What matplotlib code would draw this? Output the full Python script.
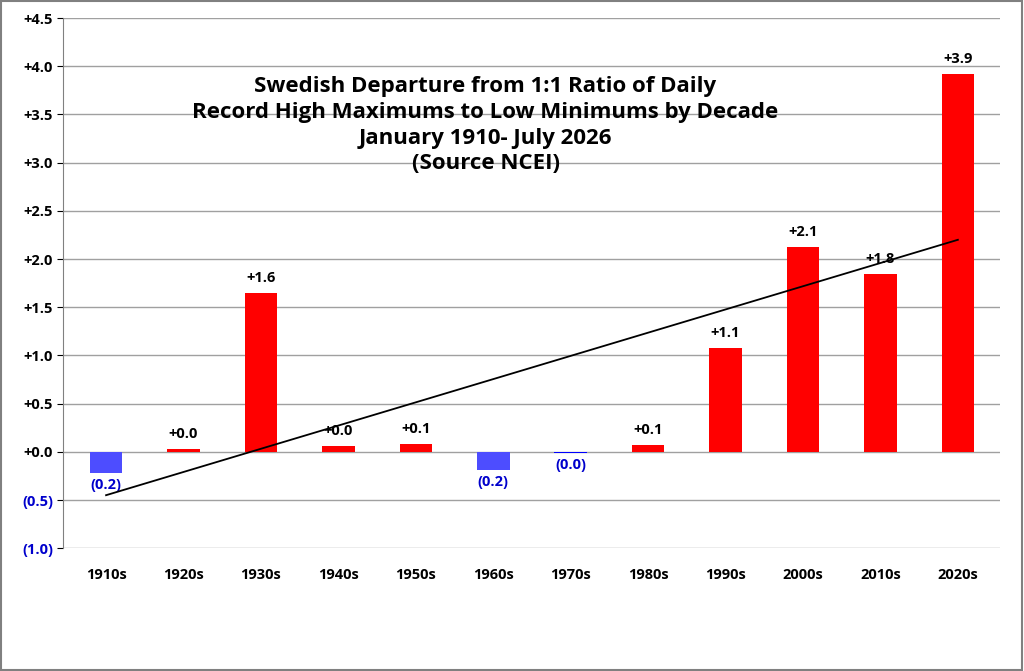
import matplotlib.pyplot as plt
from matplotlib.patches import Rectangle

decades = ['1910s', '1920s', '1930s', '1940s', '1950s', '1960s',
           '1970s', '1980s', '1990s', '2000s', '2010s', '2020s']
values = [-0.22, 0.03, 1.65, 0.06, 0.08, -0.19, -0.01, 0.07, 1.08, 2.13, 1.85, 3.92]
labels = ['(0.2)', '+0.0', '+1.6', '+0.0', '+0.1', '(0.2)', '(0.0)', '+0.1',
          '+1.1', '+2.1', '+1.8', '+3.9']
trend_start = -0.45
trend_end = 2.2
yticks = [-1.0, -0.5, 0.0, 0.5, 1.0, 1.5, 2.0, 2.5, 3.0, 3.5, 4.0, 4.5]

plt.rcParams['font.family'] = ['Open Sans', 'DejaVu Sans']
plt.rcParams['font.weight'] = 'bold'

fig = plt.figure(figsize=(10.24, 6.71), dpi=100)
ax = fig.add_axes([0.062, 0.183, 0.915, 0.79])

x = list(range(len(decades)))
colors = ['#0000ff' if v < 0 else '#ff0000' for v in values]
ax.bar(x, values, width=0.42, color=colors, zorder=3)
ax.bar([0, 5], [values[0], values[5]], width=0.42, color='#4d4dff', zorder=3)

for i, v in enumerate(values):
    if v < 0:
        ax.text(i, v - 0.05, labels[i], ha='center', va='top', color='#0000cc',
                fontsize=10.5, fontweight='bold', zorder=4)
    else:
        ax.text(i, v + 0.08, labels[i], ha='center', va='bottom', color='black',
                fontsize=10.5, fontweight='bold', zorder=4)

ax.plot([0, len(decades) - 1], [trend_start, trend_end], color='black', lw=1.3, zorder=5)

ax.set_xlim(-0.55, len(decades) - 0.45)
ax.set_ylim(-1.0, 4.5)
ax.set_yticks(yticks)
ylabels = []
for t in yticks:
    if t < 0:
        ylabels.append('(%.1f)' % abs(t))
    else:
        ylabels.append('+%.1f' % t)
ax.set_yticklabels(ylabels, fontsize=10.5, fontweight='bold')
for lbl, t in zip(ax.get_yticklabels(), yticks):
    if t < 0:
        lbl.set_color('#0000cc')
ax.set_xticks(x)
ax.set_xticklabels(decades, fontsize=10.5, fontweight='bold')
ax.tick_params(axis='x', length=0, pad=14)
ax.tick_params(axis='y', length=4, direction='out')
ax.grid(axis='y', color='#a0a0a0', lw=1, zorder=0)
for s in ['top', 'right', 'bottom']:
    ax.spines[s].set_visible(False)
ax.spines['left'].set_color('#808080')

ax.text(4.9, 3.9, 'Swedish Departure from 1:1 Ratio of Daily\n'
        'Record High Maximums to Low Minimums by Decade\n'
        'January 1910- July 2026\n(Source NCEI)',
        ha='center', va='top', fontsize=16, fontweight='bold', linespacing=1.3)

fig.patches.append(Rectangle((0.001, 0.001), 0.997, 0.997, transform=fig.transFigure,
                             fill=False, edgecolor='#808080', lw=1.5))
fig.savefig('out.png', dpi=100)
